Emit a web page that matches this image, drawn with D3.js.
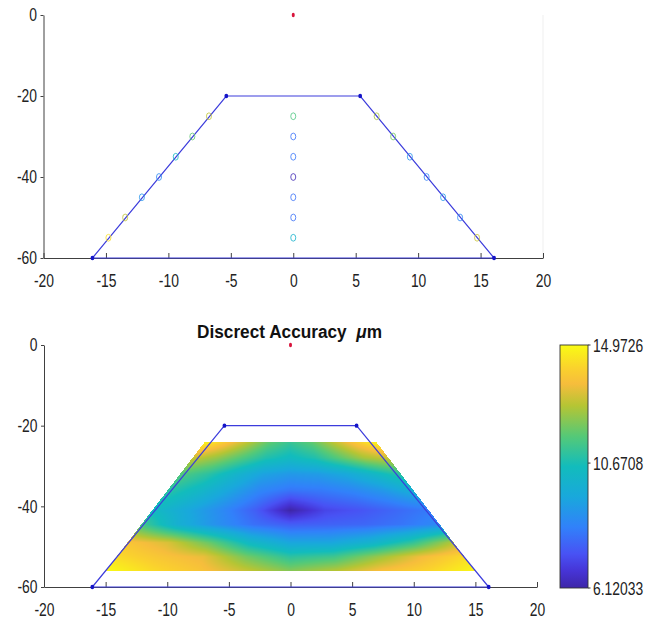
<!DOCTYPE html>
<html>
<head>
<meta charset="utf-8">
<script src="https://cdn.jsdelivr.net/npm/d3@7"></script>
<style>
  body { margin: 0; background: #fff; }
  svg { display: block; }
</style>
</head>
<body>
<svg id="fig" width="646" height="620"></svg>
<script>
// ---- Section outline (µm) ----
const outlineX = [-16.08, -5.36, 5.36, 16.08];
const outlineY = [-60, -20, -20, -60];
const originX = [0];
const originY = [0];

// ---- Measurement points: three columns at the same depths ----
const pointY  = [-25, -30, -35, -40, -45, -50, -55];
const leftX   = [-6.75, -8.08, -9.41, -10.75, -12.12, -13.46, -14.8];
const centerX = [0, 0, 0, 0, 0, 0, 0];
const rightX  = [6.68, 8.0, 9.34, 10.68, 12.0, 13.36, 14.72];
const leftErr   = [12.9, 11.8, 10.2, 8.6, 8.9, 12.9, 14.4];
const centerErr = [11.5, 8.0, 8.1, 6.3, 8.0, 8.0, 10.0];
const rightErr  = [12.6, 12.0, 8.8, 8.4, 9.0, 8.5, 13.0];

// ---- Accuracy surface: rows by depth, columns by relative position across the section ----
const gridY = [-24, -28, -32, -36, -41, -44.5, -49, -52.5, -56];
const gridU = [-1, -0.75, -0.5, -0.25, 0, 0.25, 0.5, 0.75, 1];
const gridErr = [
  [14.9, 13.9, 12.9, 11.8, 11.2, 11.8, 12.9, 13.9, 14.9],
  [13.0, 12.4, 11.6, 10.8, 10.4, 10.8, 11.7, 12.6, 13.0],
  [11.6, 11.0, 10.1, 9.3, 9.0, 9.1, 9.5, 10.2, 11.0],
  [11.0, 10.3, 9.4, 8.5, 8.1, 8.2, 8.5, 9.0, 9.8],
  [10.4, 9.5, 8.6, 7.6, 6.12033, 7.1, 7.4, 7.8, 8.2],
  [11.4, 9.8, 8.8, 8.0, 7.6, 7.7, 7.8, 8.1, 8.6],
  [13.8, 13.2, 11.9, 10.3, 9.4, 9.4, 10.0, 11.1, 12.8],
  [14.3, 13.8, 13.4, 12.0, 11.0, 11.3, 12.4, 13.5, 14.3],
  [14.9726, 14.3, 13.8, 13.0, 12.2, 12.8, 13.7, 14.2, 14.9]
];
// half-width of the sampled region at its bottom and top depth
const edgeY = [-56, -24];
const edgeHalf = [15.0, 6.95];

// ---- Ticks ----
const xTicks = [-20, -15, -10, -5, 0, 5, 10, 15, 20];
const yTicks = [0, -20, -40, -60];
const cbTicks = [6.12033, 10.6708, 14.9726];
const cbLabels = ["6.12033", "10.6708", "14.9726"];
const titleText = "Discrect Accuracy  ";

// ---- parula colour map ----
const parulaPos = [0, 0.07, 0.14, 0.25, 0.375, 0.5, 0.625, 0.75, 0.84, 0.9, 1];
const parulaCol = ["#3E26A8", "#4634D6", "#4852F4", "#3181FA", "#19A8DC", "#12BCBC",
                   "#55C977", "#B5C534", "#F6BD3C", "#FAD02E", "#F9FB14"];

const vMin = cbTicks[0], vMax = cbTicks[2];
const color = d3.scaleLinear()
  .domain(parulaPos.map(t => vMin + t * (vMax - vMin)))
  .range(parulaCol)
  .interpolate(d3.interpolateRgb)
  .clamp(true);

const FONT = '"Liberation Sans", Arial, Helvetica, sans-serif';
const SQ = 0.75;          // horizontal condensing of all lettering
const LINE = "#3c3cdc";
const AXIS = "#404040";
const INK = "#222";

const svg = d3.select("#fig");

// ---- scales ----
const xT = d3.scaleLinear().domain([-20, 20]).range([43.5, 543]);
const yT = d3.scaleLinear().domain([-60, 0]).range([258, 15]);
const xB = d3.scaleLinear().domain([-20, 20]).range([44, 537]);
const yB = d3.scaleLinear().domain([-60, 0]).range([587, 345]);

function drawAxes(g, x, y) {
  const fmt = d => String(d);
  const ax = g.append("g")
    .attr("transform", `translate(0,${y(-60)})`)
    .call(d3.axisBottom(x).tickValues(xTicks).tickFormat(fmt)
      .tickSize(-5).tickSizeOuter(0).tickPadding(15.5));
  const ay = g.append("g")
    .attr("transform", `translate(${x(-20)},0)`)
    .call(d3.axisLeft(y).tickValues(yTicks).tickFormat(fmt)
      .tickSize(3).tickSizeOuter(0).tickPadding(3));
  [ax, ay].forEach(a => {
    a.attr("font-family", FONT).attr("font-size", 18.5);
    a.select(".domain").attr("stroke", AXIS).attr("stroke-width", 1);
    a.selectAll(".tick line").attr("stroke", AXIS);
    a.selectAll(".tick text").attr("fill", INK).attr("transform", `scale(${SQ},1)`);
  });
  ay.selectAll(".tick text").attr("x", -6.5 / SQ);
}

function drawOutline(g, x, y) {
  const pts = outlineX.map((v, i) => [v, outlineY[i]]);
  g.append("path")
    .attr("d", d3.line().x(d => x(d[0])).y(d => y(d[1])).curve(d3.curveLinearClosed)(pts))
    .attr("fill", "none")
    .attr("stroke", LINE)
    .attr("stroke-width", 1.2);
  g.selectAll(null).data(pts).join("ellipse")
    .attr("cx", d => x(d[0])).attr("cy", d => y(d[1]))
    .attr("rx", 1.9).attr("ry", 2.2)
    .attr("fill", "#1414c8");
  g.selectAll(null).data(originX.map((v, i) => [v, originY[i]])).join("ellipse")
    .attr("cx", d => x(d[0])).attr("cy", d => y(d[1]))
    .attr("rx", 1.5).attr("ry", 2.2)
    .attr("fill", "#d8143c");
}

// ================= upper panel =================
const upper = svg.append("g");
upper.append("line")
  .attr("x1", xT(20)).attr("x2", xT(20)).attr("y1", yT(0)).attr("y2", yT(-60))
  .attr("stroke", "#efefef");
drawAxes(upper, xT, yT);
drawOutline(upper, xT, yT);

const columns = [
  { xs: leftX, vs: leftErr },
  { xs: centerX, vs: centerErr },
  { xs: rightX, vs: rightErr }
];
columns.forEach(col => {
  upper.selectAll(null)
    .data(pointY.map((yv, i) => ({ x: col.xs[i], y: yv, v: col.vs[i] })))
    .join("ellipse")
    .attr("cx", d => xT(d.x)).attr("cy", d => yT(d.y))
    .attr("rx", 2.5).attr("ry", 3.4)
    .attr("fill", "none")
    .attr("stroke", d => color(d.v))
    .attr("stroke-width", 1)
    .attr("opacity", 0.8);
});

// ================= lower panel =================
const lower = svg.append("g");
drawAxes(lower, xB, yB);

// interpolated accuracy surface rendered into a bitmap
(function () {
  const W = 646, H = 620;
  const cv = document.createElement("canvas");
  cv.width = W; cv.height = H;
  const ctx = cv.getContext("2d");
  const img = ctx.createImageData(W, H);
  const half = d3.scaleLinear().domain(edgeY).range(edgeHalf);
  const rowIdx = d3.scaleLinear().domain(gridY).range(d3.range(gridY.length)).clamp(true);
  const colIdx = d3.scaleLinear().domain(gridU).range(d3.range(gridU.length)).clamp(true);
  const nr = gridY.length, nc = gridU.length;
  const py0 = Math.floor(yB(edgeY[1])), py1 = Math.ceil(yB(edgeY[0]));
  const px0 = Math.floor(xB(-edgeHalf[0])), px1 = Math.ceil(xB(edgeHalf[0]));
  for (let py = py0; py <= py1; py++) {
    const yv = yB.invert(py + 0.5);
    if (yv > edgeY[1] || yv < edgeY[0]) continue;
    const h = half(yv);
    const r = rowIdx(yv);
    const r0 = Math.min(Math.floor(r), nr - 1), r1 = Math.min(r0 + 1, nr - 1), fr = r - r0;
    for (let px = px0; px <= px1; px++) {
      const xv = xB.invert(px + 0.5);
      if (Math.abs(xv) > h) continue;
      const c = colIdx(xv / h);
      const c0 = Math.min(Math.floor(c), nc - 1), c1 = Math.min(c0 + 1, nc - 1), fc = c - c0;
      const v = (1 - fr) * ((1 - fc) * gridErr[r0][c0] + fc * gridErr[r0][c1]) +
                fr * ((1 - fc) * gridErr[r1][c0] + fc * gridErr[r1][c1]);
      const rgb = d3.rgb(color(v));
      const k = (py * W + px) * 4;
      img.data[k] = rgb.r; img.data[k + 1] = rgb.g; img.data[k + 2] = rgb.b; img.data[k + 3] = 255;
    }
  }
  ctx.putImageData(img, 0, 0);
  lower.append("image")
    .attr("x", 0).attr("y", 0).attr("width", W).attr("height", H)
    .attr("href", cv.toDataURL());
})();

drawOutline(lower, xB, yB);

// title, condensed to its set width
const title = lower.append("text")
  .attr("text-anchor", "middle")
  .attr("font-family", FONT)
  .attr("font-size", 19)
  .attr("font-weight", "bold")
  .attr("fill", "#111")
  .style("white-space", "pre");
title.append("tspan").text(titleText);
title.append("tspan").attr("font-style", "italic").text("\u03bc");
title.append("tspan").text("m");
const tw = title.node().getBBox().width;
title.attr("transform", `translate(289.5,337.5) scale(${185 / tw},1)`);

// colour bar
const cbX = 560, cbW = 28;
const cbScale = d3.scaleLinear().domain([vMin, vMax]).range([588, 345]);
const grad = svg.append("defs").append("linearGradient")
  .attr("id", "cbgrad").attr("x1", 0).attr("x2", 0).attr("y1", 1).attr("y2", 0);
grad.selectAll("stop").data(parulaPos).join("stop")
  .attr("offset", d => d)
  .attr("stop-color", (d, i) => parulaCol[i]);
svg.append("rect")
  .attr("x", cbX).attr("y", cbScale(vMax))
  .attr("width", cbW).attr("height", cbScale(vMin) - cbScale(vMax))
  .attr("fill", "url(#cbgrad)")
  .attr("stroke", "#333").attr("stroke-width", 0.9);
svg.selectAll(null).data(cbTicks).join("line")
  .attr("x1", cbX + cbW).attr("x2", cbX + cbW + 2.5)
  .attr("y1", d => cbScale(d)).attr("y2", d => cbScale(d))
  .attr("stroke", "#333");
svg.selectAll(null).data(cbTicks).join("text")
  .attr("transform", d => `translate(593,${cbScale(d)}) scale(${SQ},1)`)
  .attr("dy", "0.36em")
  .attr("font-family", FONT)
  .attr("font-size", 18.5)
  .attr("fill", INK)
  .text((d, i) => cbLabels[i]);
</script>
</body>
</html>
